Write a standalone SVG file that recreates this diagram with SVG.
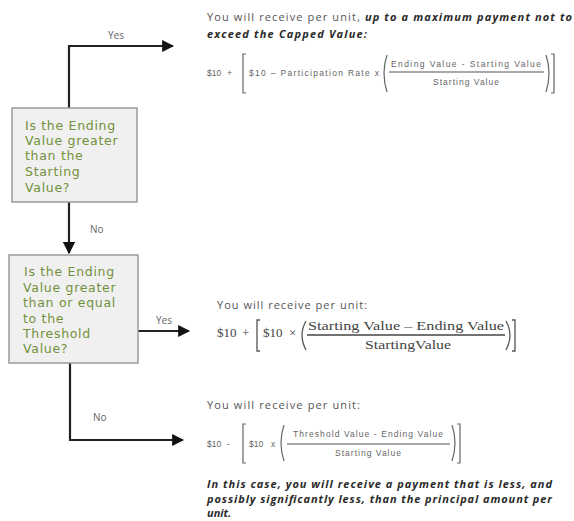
<svg xmlns="http://www.w3.org/2000/svg" width="574" height="521" viewBox="0 0 574 521">
<style>
.box{fill:#f0f0f0;stroke:#9a9a9a;stroke-width:1.5}
.q{font-family:"DejaVu Sans",sans-serif;font-size:12.5px;letter-spacing:0.7px;fill:#72913a}
.conn{fill:none;stroke:#222;stroke-width:2.2}
.lbl{font-family:"Open Sans","Liberation Sans",sans-serif;font-size:10px;fill:#666}
.t{font-family:"Open Sans","Liberation Sans",sans-serif;font-size:11px;fill:#555}
.bi{font-weight:bold;font-style:italic;fill:#2a2a2a}
.f{font-family:"Liberation Sans",sans-serif;font-size:8.5px;fill:#666}
.s{font-family:"Liberation Serif",serif;font-size:13px;fill:#444}
.br{fill:none;stroke:#666;stroke-width:1.2}
.brs{fill:none;stroke:#555;stroke-width:1.3}
</style>
<defs>
<marker id="ah" viewBox="0 0 10 10" refX="9" refY="5" markerWidth="5.5" markerHeight="5.5" orient="auto" markerUnits="strokeWidth">
<path d="M0,0 L10,5 L0,10 Z" fill="#111"/>
</marker>
</defs>
<rect width="574" height="521" fill="#fff"/>

<g id="connectors">
<path class="conn" d="M69,108 V46 H173" marker-end="url(#ah)"/>
<path class="conn" d="M69,202 V253" marker-end="url(#ah)"/>
<path class="conn" d="M138,331 H189" marker-end="url(#ah)"/>
<path class="conn" d="M70,363 V440 H183" marker-end="url(#ah)"/>
<text class="lbl" x="108" y="39">Yes</text>
<text class="lbl" x="90" y="233">No</text>
<text class="lbl" x="156" y="324">Yes</text>
<text class="lbl" x="93" y="421">No</text>
</g>

<g id="q1">
<rect class="box" x="12" y="108" width="125" height="94"/>
<text class="q"><tspan x="25" y="130">Is the Ending</tspan><tspan x="25" y="145">Value greater</tspan><tspan x="25" y="160">than the</tspan><tspan x="25" y="176">Starting</tspan><tspan x="25" y="192">Value?</tspan></text>
</g>

<g id="q2">
<rect class="box" x="9" y="255" width="129" height="108"/>
<text class="q"><tspan x="24" y="276">Is the Ending</tspan><tspan x="23" y="292">Value greater</tspan><tspan x="23" y="307">than or equal</tspan><tspan x="23" y="323">to the</tspan><tspan x="23" y="338">Threshold</tspan><tspan x="23" y="353">Value?</tspan></text>
</g>

<g id="out1">
<text class="t" x="207" y="21" textLength="365" lengthAdjust="spacing">You will receive per unit, <tspan class="bi">up to a maximum payment not to</tspan></text>
<text class="t bi" x="207" y="38" textLength="160" lengthAdjust="spacing">exceed the Capped Value:</text>
<text class="f" x="207" y="76">$10</text>
<text class="f" x="227" y="76">+</text>
<path class="br" d="M246,54 H243 V93 H246"/>
<text class="f" x="249" y="76" textLength="130" lengthAdjust="spacing">$10 – Participation Rate  x</text>
<path class="br" d="M387,55 Q381,73 387,92"/>
<text class="f" x="466" y="67" text-anchor="middle" textLength="150" lengthAdjust="spacing">Ending Value - Starting Value</text>
<line x1="389" y1="72" x2="544" y2="72" stroke="#555" stroke-width="1.2"/>
<text class="f" x="466" y="85" text-anchor="middle" textLength="66" lengthAdjust="spacing">Starting Value</text>
<path class="br" d="M546,55 Q552,73 546,92"/>
<path class="br" d="M551,54 H554 V93 H551"/>
</g>

<g id="out2">
<text class="t" x="217" y="309" font-size="10" textLength="150" lengthAdjust="spacing">You will receive per unit:</text>
<text class="s" x="217" y="337">$10</text>
<text class="s" x="242" y="337">+</text>
<path class="brs" d="M260,320 H257 V351 H260"/>
<text class="s" x="263" y="337">$10</text>
<text class="s" x="289" y="337">×</text>
<path class="brs" d="M306,321 Q298,335 306,350"/>
<text class="s" x="406" y="330" text-anchor="middle" textLength="196" lengthAdjust="spacingAndGlyphs">Starting Value – Ending Value</text>
<line x1="307" y1="335" x2="505" y2="335" stroke="#444" stroke-width="1.5"/>
<text class="s" x="408" y="349" text-anchor="middle" textLength="86" lengthAdjust="spacingAndGlyphs">StartingValue</text>
<path class="brs" d="M506,321 Q514,335 506,350"/>
<path class="brs" d="M512,320 H515 V351 H512"/>
</g>

<g id="out3">
<text class="t" x="207" y="409" font-size="10" textLength="153" lengthAdjust="spacing">You will receive per unit:</text>
<text class="f" x="207" y="447">$10</text>
<text class="f" x="227" y="447">-</text>
<path class="br" d="M246,424 H243 V463 H246"/>
<text class="f" x="249" y="447">$10</text>
<text class="f" x="271" y="447">x</text>
<path class="br" d="M284,425 Q278,443 284,461"/>
<text class="f" x="368" y="437" text-anchor="middle" textLength="150" lengthAdjust="spacing">Threshold Value - Ending Value</text>
<line x1="287" y1="444" x2="450" y2="444" stroke="#555" stroke-width="1.2"/>
<text class="f" x="368" y="456" text-anchor="middle" textLength="66" lengthAdjust="spacing">Starting Value</text>
<path class="br" d="M452,425 Q458,443 452,461"/>
<path class="br" d="M457,424 H460 V463 H457"/>
<text class="t bi" x="207" y="488" textLength="345" lengthAdjust="spacing">In this case, you will receive a payment that is less, and</text>
<text class="t bi" x="207" y="503" textLength="345" lengthAdjust="spacing">possibly significantly less, than the principal amount per</text>
<text class="t bi" x="207" y="517">unit.</text>
</g>
</svg>
